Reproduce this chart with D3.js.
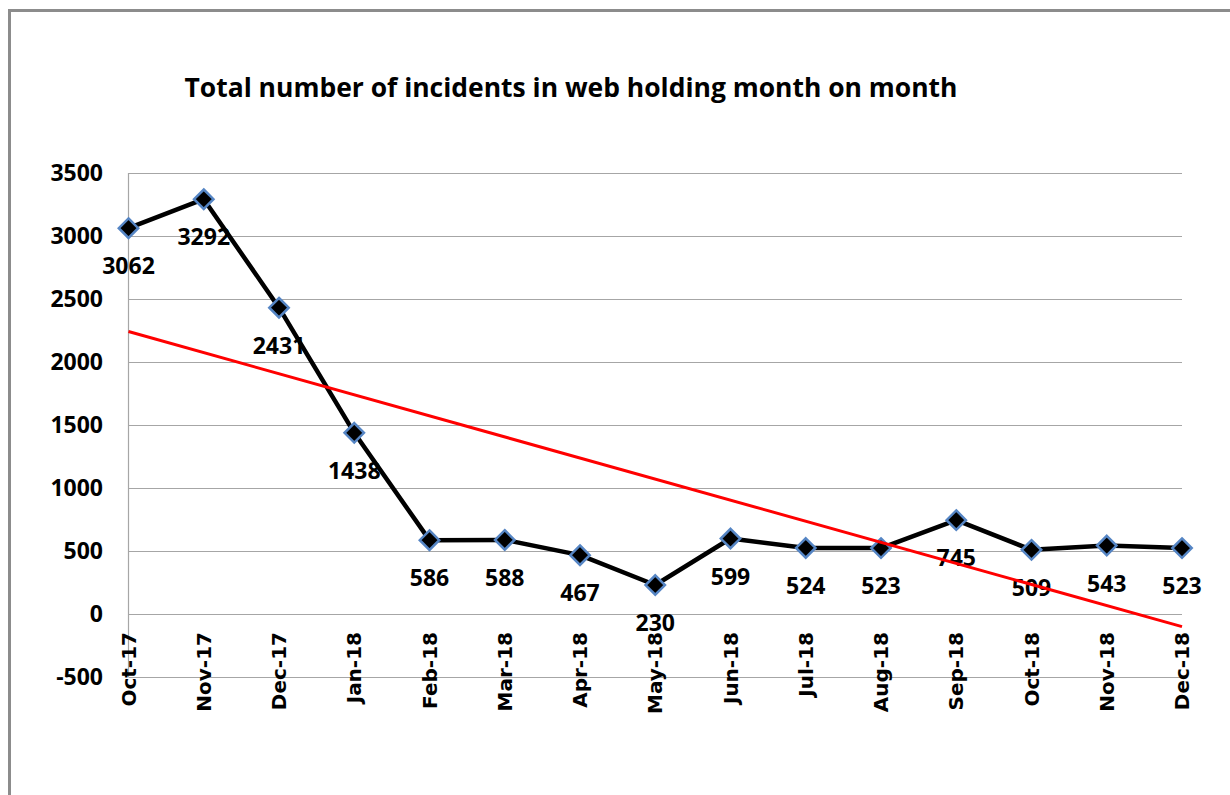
<!DOCTYPE html>
<html>
<head>
<meta charset="utf-8">
<script src="https://cdn.jsdelivr.net/npm/d3@7"></script>
<style>
  body { margin: 0; background: #fff; }
  .tick-label, .data-label { font-family: "Open Sans", sans-serif; font-weight: bold; font-size: 23px; fill: #000; }
  .cat-label { font-family: "DejaVu Sans", sans-serif; font-weight: bold; font-size: 20px; fill: #000; }
  .title { font-family: "Open Sans", sans-serif; font-weight: bold; font-size: 27px; fill: #000; }
</style>
</head>
<body>
<div id="chart"></div>
<script>
// chart data
var months = ["Oct-17", "Nov-17", "Dec-17", "Jan-18", "Feb-18", "Mar-18", "Apr-18", "May-18",
              "Jun-18", "Jul-18", "Aug-18", "Sep-18", "Oct-18", "Nov-18", "Dec-18"];
var incidents = [3062, 3292, 2431, 1438, 586, 588, 467, 230, 599, 524, 523, 745, 509, 543, 523];
var yTicks = [-500, 0, 500, 1000, 1500, 2000, 2500, 3000, 3500];
var title = "Total number of incidents in web holding month on month";

var width = 1230, height = 795;
var plot = {left: 128.5, right: 1182, top: 173, bottom: 677};

var svg = d3.select("#chart").append("svg")
  .attr("width", width)
  .attr("height", height);

// outer frame (runs off the right and bottom edge)
svg.append("rect")
  .attr("x", 9.5).attr("y", 10.5)
  .attr("width", 1400).attr("height", 1000)
  .attr("fill", "none")
  .attr("stroke", "#8c8c8c")
  .attr("stroke-width", 3);

var x = d3.scalePoint().domain(months).range([plot.left, plot.right]);
var y = d3.scaleLinear().domain([-500, 3500]).range([plot.bottom, plot.top]);

// title
svg.append("text")
  .attr("class", "title")
  .attr("x", 571).attr("y", 97)
  .attr("text-anchor", "middle")
  .attr("textLength", 773)
  .attr("lengthAdjust", "spacingAndGlyphs")
  .text(title);

// gridlines
svg.append("g").selectAll("line").data(yTicks)
  .join("line")
  .attr("x1", plot.left).attr("x2", plot.right)
  .attr("y1", d => Math.round(y(d)) + 0.5).attr("y2", d => Math.round(y(d)) + 0.5)
  .attr("stroke", "#a6a6a6")
  .attr("stroke-width", 1.2);

// vertical axis line
svg.append("line")
  .attr("x1", plot.left).attr("x2", plot.left)
  .attr("y1", plot.top).attr("y2", plot.bottom)
  .attr("stroke", "#a6a6a6")
  .attr("stroke-width", 1.2);

svg.append("g").selectAll("text").data(yTicks)
  .join("text")
  .attr("class", "tick-label")
  .attr("x", 103)
  .attr("y", d => y(d))
  .attr("dy", "0.36em")
  .attr("text-anchor", "end")
  .text(d => d);

// category labels, rotated
svg.append("g").selectAll("text").data(months)
  .join("text")
  .attr("class", "cat-label")
  .attr("transform", d => `translate(${x(d)},632) rotate(-90)`)
  .attr("dy", "0.36em")
  .attr("text-anchor", "end")
  .text(d => d);

// series line
var line = d3.line()
  .x((d, i) => x(months[i]))
  .y(d => y(d));

svg.append("path")
  .datum(incidents)
  .attr("d", line)
  .attr("fill", "none")
  .attr("stroke", "#000")
  .attr("stroke-width", 4.5)
  .attr("stroke-linejoin", "round");

// diamond markers
var diamond = d3.symbol().type(d3.symbolDiamond2).size(240);
svg.append("g").selectAll("path").data(incidents)
  .join("path")
  .attr("d", diamond)
  .attr("transform", (d, i) => `translate(${x(months[i])},${y(d)})`)
  .attr("fill", "#000")
  .attr("stroke", "#5585c4")
  .attr("stroke-width", 2.5);

// data labels below each point
svg.append("g").selectAll("text").data(incidents)
  .join("text")
  .attr("class", "data-label")
  .attr("x", (d, i) => x(months[i]))
  .attr("y", d => y(d) + 46)
  .attr("text-anchor", "middle")
  .text(d => d);

// linear trendline (least squares over the month index)
var n = incidents.length;
var mx = d3.mean(incidents, (d, i) => i);
var my = d3.mean(incidents);
var slope = d3.sum(incidents, (d, i) => (i - mx) * (d - my)) / d3.sum(incidents, (d, i) => (i - mx) * (i - mx));
var intercept = my - slope * mx;

svg.append("line")
  .attr("x1", x(months[0])).attr("y1", y(intercept))
  .attr("x2", x(months[n - 1])).attr("y2", y(intercept + slope * (n - 1)))
  .attr("stroke", "#ff0000")
  .attr("stroke-width", 3);
</script>
</body>
</html>
